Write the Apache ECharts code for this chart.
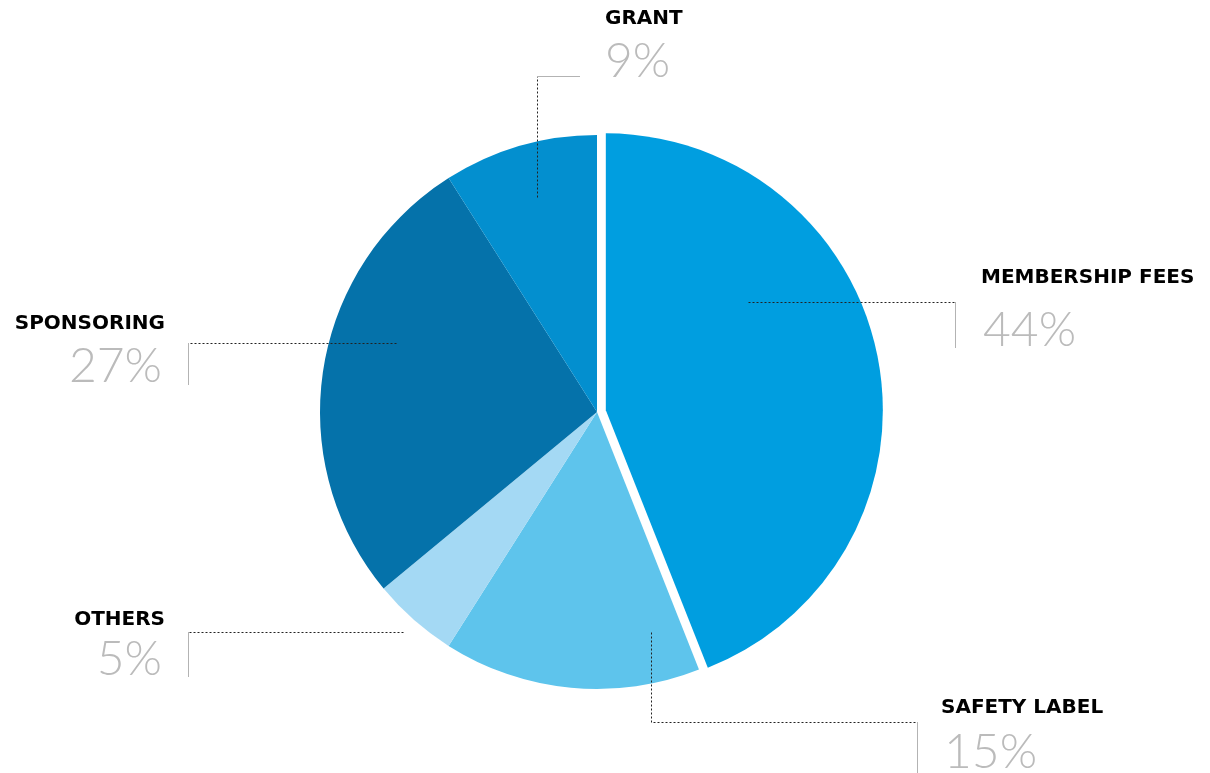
<!DOCTYPE html>
<html>
<head>
<meta charset="utf-8">
<script src="https://cdn.jsdelivr.net/npm/echarts@6/dist/echarts.min.js"></script>
<style>
  html, body { margin: 0; padding: 0; background: #fff; }
  #chart { width: 1210px; height: 773px; }
</style>
</head>
<body>
<div id="chart"></div>
<script>
// revenue split, clockwise from 12 o'clock
const categories = ['MEMBERSHIP FEES', 'SAFETY LABEL', 'OTHERS', 'SPONSORING', 'GRANT'];
const shares = [44, 15, 5, 27, 9];
const sliceColors = ['#009ee0', '#5ec4ec', '#a4d9f4', '#0572aa', '#038fcf'];
const pulledOut = 'MEMBERSHIP FEES';

// label placement: dotted leader path, then line heights of the name / percent rows
const leaders = [
  { side: 'right', path: [[748, 302], [955, 302]], nameH: 48, pctH: 58, barH: 46, nameGap: 26, pctGap: 27 },
  { side: 'right', path: [[651, 632], [651, 722], [917, 722]], nameH: 28, pctH: 62, barH: 60, nameGap: 24, pctGap: 26 },
  { side: 'left',  path: [[403, 632], [188, 632]], nameH: 25, pctH: 55, barH: 45, nameGap: 24, pctGap: 26 },
  { side: 'left',  path: [[396, 343], [188, 343]], nameH: 38, pctH: 48, barH: 42, nameGap: 24, pctGap: 26 },
  { side: 'top',   path: [[537, 197], [537, 76]], nameH: 56, pctH: 30, barH: 1, nameGap: 68, pctGap: 25 }
];

const CENTER = [597, 412];
const RADIUS = 277;
const PULL = 9;

const nameFont = { fontFamily: 'DejaVu Sans', fontWeight: 'bold', fontSize: 20, color: '#000' };
const pctFont = { fontFamily: 'Lato', fontWeight: 300, fontSize: 48, color: '#bbbbbb' };

// one set of rich styles per slice so every label can sit on its own leader
const rich = {};
leaders.forEach((L, i) => {
  const left = L.side === 'left';
  rich['n' + i] = Object.assign({}, nameFont, {
    lineHeight: L.nameH,
    padding: left ? [0, L.nameGap, 0, 0] : [0, 0, 0, L.nameGap]
  });
  rich['p' + i] = Object.assign({}, pctFont, {
    lineHeight: L.pctH,
    padding: left ? [0, L.pctGap, 0, 0] : [0, 0, 0, L.pctGap]
  });
  rich['b' + i] = L.side === 'top'
    ? { width: 43, height: 1, backgroundColor: '#b3b3b3', verticalAlign: 'bottom' }
    : { width: 1, height: L.barH, backgroundColor: '#b3b3b3', verticalAlign: 'top' };
});

// angle of the pulled slice's middle, to shift its copy outwards
const total = shares.reduce((a, b) => a + b, 0);
const pullIdx = categories.indexOf(pulledOut);
const before = shares.slice(0, pullIdx).reduce((a, b) => a + b, 0);
const midAngle = (before + shares[pullIdx] / 2) / total * 2 * Math.PI;
const pulledCenter = [CENTER[0] + PULL * Math.sin(midAngle), CENTER[1] - PULL * Math.cos(midAngle)];

const clear = 'rgba(0,0,0,0)';
const pieBase = {
  type: 'pie',
  radius: RADIUS,
  startAngle: 90,
  clockwise: true,
  avoidLabelOverlap: false,
  emphasis: { disabled: true }
};
function sliceData(colorOf) {
  return categories.map((name, i) => ({
    name: name,
    value: shares[i],
    itemStyle: { color: colorOf(i) }
  }));
}

var chartDom = document.getElementById('chart');
var myChart = echarts.init(chartDom);

const option = {
  backgroundColor: '#fff',
  animation: false,
  series: [
    Object.assign({}, pieBase, {
      // the pie itself, minus the pulled slice
      center: CENTER,
      z: 1,
      silent: true,
      label: { show: false },
      labelLine: { show: false },
      data: sliceData(i => (i === pullIdx ? clear : sliceColors[i]))
    }),
    Object.assign({}, pieBase, {
      // the pulled-out slice, shifted along its bisector
      center: pulledCenter,
      z: 1,
      silent: true,
      label: { show: false },
      labelLine: { show: false },
      data: sliceData(i => (i === pullIdx ? sliceColors[i] : clear))
    }),
    Object.assign({}, pieBase, {
      // invisible copy on top carrying the labels and dotted leaders
      center: CENTER,
      z: 5,
      silent: true,
      data: sliceData(() => clear),
      label: {
        show: true,
        position: 'outside',
        formatter: function (p) {
          const i = p.dataIndex;
          const side = leaders[i].side;
          if (side === 'left') return '{n' + i + '|' + p.name + '}\n{p' + i + '|' + p.value + '%}{b' + i + '|}';
          return '{n' + i + '|' + p.name + '}\n{b' + i + '|}{p' + i + '|' + p.value + '%}';
        },
        rich: rich
      },
      labelLine: {
        show: true,
        lineStyle: { color: '#222', width: 1, type: [2, 2] }
      },
      labelLayout: function (params) {
        const L = leaders[params.dataIndex];
        const pts = L.path.map(p => [p[0] + 0.5, p[1] + 0.5]);
        const end = L.path[L.path.length - 1];
        if (L.side === 'top') {
          return {
            x: end[0], y: end[1] - L.nameH - L.pctH + 1,
            align: 'left', verticalAlign: 'top',
            labelLinePoints: pts
          };
        }
        return {
          x: end[0] + (L.side === 'left' ? 1 : 0), y: end[1] - L.nameH,
          align: L.side === 'left' ? 'right' : 'left',
          verticalAlign: 'top',
          labelLinePoints: pts
        };
      }
    })
  ]
};

option && myChart.setOption(option);
</script>
</body>
</html>
